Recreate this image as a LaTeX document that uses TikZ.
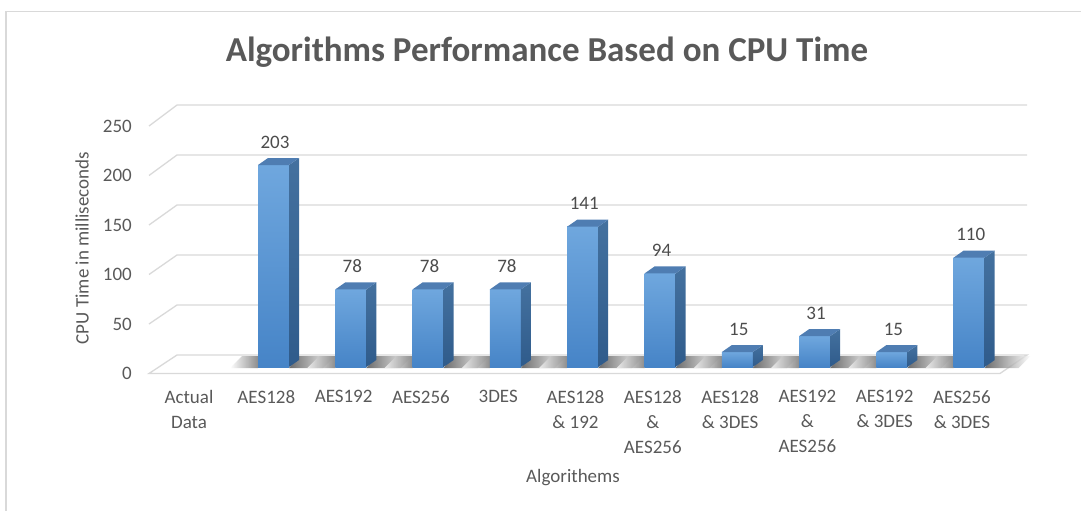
\documentclass[tikz,border=0pt]{standalone}
\usepackage{fontspec}
\setmainfont{Carlito}
\definecolor{txt}{HTML}{595959}
\definecolor{grid}{HTML}{D9D9D9}
\definecolor{frameC}{HTML}{D9D9D9}
\definecolor{barTop}{HTML}{6FA7DE}
\definecolor{barBot}{HTML}{4684C7}
\definecolor{sideTop}{HTML}{44719F}
\definecolor{sideBot}{HTML}{2F5B8B}
\definecolor{capC}{HTML}{4F7DB2}
\definecolor{shadowC}{HTML}{3C3C3C}
\tikzset{
  lbl/.style={text=txt, inner sep=0pt, font=\fontsize{19}{25}\selectfont},
  catlbl/.style={lbl, anchor=north, align=center},
  vallbl/.style={lbl, text=txt!85!black},
  gridline/.style={draw=grid, line width=1.3pt},
}
\begin{document}
\begin{tikzpicture}[x=1pt, y=-1pt]
\useasboundingbox (0,0) rectangle (1081,511);
% chart frame (top and left edges)
\draw[frameC, line width=1.2pt] (6,520) -- (6,11.5) -- (1090,11.5);

% title
\node[lbl, font=\fontsize{35}{38}\selectfont\bfseries] (title) at (547,52) {Algorithms Performance Based on CPU Time};

% gridlines with the slanted side wall edge
\foreach \v in {50,100,150,200,250} {
  \draw[gridline] (149,373.5-0.99*\v) -- (177,355-\v) -- (1027,355-\v);
  \node[lbl, anchor=east] (tick\v) at (132,373.5-0.99*\v) {\v};
}
\node[lbl, anchor=east] (tick0) at (132,373.5) {0};

% floor
\draw[gridline, fill=white] (149,373.5) -- (177,355) -- (1027,355) -- (1000,373.5) -- cycle;

% bar shadows on the floor
\foreach \v [count=\i] in {203,78,78,78,141,94,15,31,15,110} {
  \pgfmathsetmacro\xl{258+77.3*(\i-1)}
  \pgfmathsetmacro\xr{\xl+31}
  \shade[left color=white, right color=shadowC, opacity=0.75]
    (\xl-28,368) -- (\xl,368) -- (\xl+8,356) -- (\xl-16,356) -- cycle;
  \shade[left color=shadowC, right color=white, opacity=0.75]
    (\xr,368) -- (\xr+34,368) -- (\xr+46,356) -- (\xr+10,356) -- cycle;
}

% bars
\foreach \v [count=\i] in {203,78,78,78,141,94,15,31,15,110} {
  \pgfmathsetmacro\xl{258+77.3*(\i-1)}
  \pgfmathsetmacro\xr{\xl+31}
  \pgfmathsetmacro\yt{367-0.995*\v}
  \shade[top color=barTop, bottom color=barBot]
    (\xl,367) rectangle (\xr,\yt);
  \shade[top color=sideTop, bottom color=sideBot]
    (\xr,367) -- (\xr+10,360) -- (\xr+10,\yt-7) -- (\xr,\yt) -- cycle;
  \fill[capC] (\xl,\yt) -- (\xr,\yt) -- (\xr+10,\yt-7) -- (\xl+10,\yt-7) -- cycle;
  \node[vallbl] (val\i) at (\xl+17,\yt-23) {\v};
}

% category labels
\foreach \t [count=\i from 0] in {Actual\\Data, AES128, AES192, AES256, 3DES,
    AES128\\\& 192, AES128\\\&\\AES256, AES128\\\& 3DES, AES192\\\&\\AES256,
    AES192\\\& 3DES, AES256\\\& 3DES} {
  \node[catlbl] (cat\i) at (189+77.3*\i,390) {\t};
}

% axis titles
\node[lbl] (xtitle) at (573,478) {Algorithems};
\node[lbl, rotate=90] (ytitle) at (82,248) {CPU Time in milliseconds};
\end{tikzpicture}
\end{document}
